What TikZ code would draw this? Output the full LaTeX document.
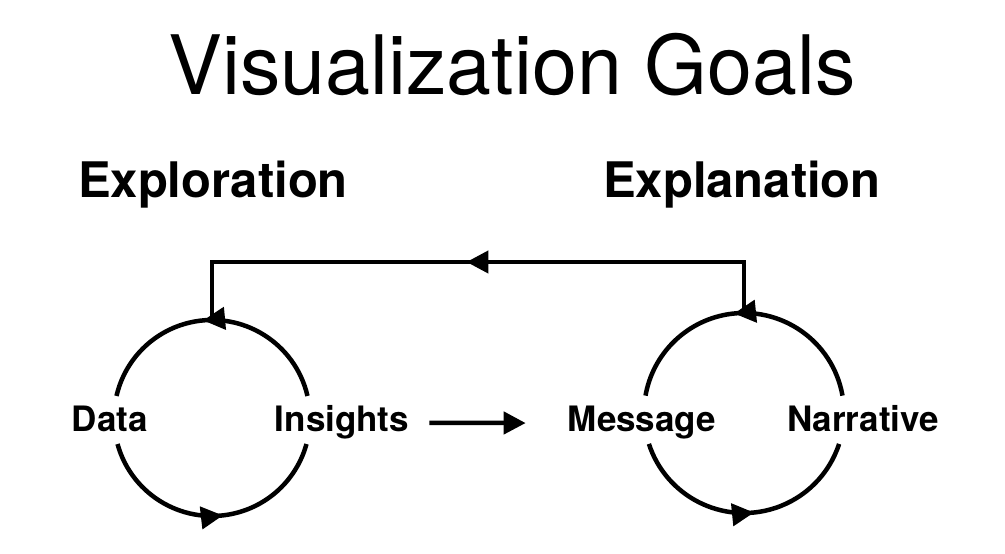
\documentclass[tikz,border=0pt]{standalone}
\usepackage{fontspec}
\setmainfont{TeX Gyre Heros}
\usetikzlibrary{arrows.meta,decorations.markings}
\begin{document}
\begin{tikzpicture}[x=1pt,y=1pt,line width=4.5pt,
	title/.style={font=\fontsize{82}{82}\selectfont,anchor=base,inner sep=0pt,xscale=0.985},
	head/.style={font=\fontsize{49}{49}\selectfont\bfseries,anchor=base,inner sep=0pt},
	word/.style={font=\fontsize{35}{35}\selectfont\bfseries,anchor=base,inner sep=0pt},
	midtip/.style={postaction={decorate,decoration={markings,
		mark=at position #1 with {\arrow{Triangle[length=22pt,width=22pt]}}}}}]
	\useasboundingbox (0,0) rectangle (1005,554);

	\node[title] (goals) at (512,459) {Visualization Goals};
	\node[head] (explo) at (213,356) {Exploration};
	\node[head] (expla) at (742,356) {Explanation};

	\node[word] (data) at (110,122) {Data};
	\node[word] (ins) at (342,122) {Insights};
	\node[word] (msg) at (642,122) {Message};
	\node[word] (nar) at (863,122) {Narrative};

	% the two loops
	\coordinate (exc) at (212,136);
	\coordinate (xpc) at (744,141);
	\draw[midtip=0.534] ([shift={(13:98)}]exc) arc (13:167:98);
	\draw[midtip=0.543] ([shift={(195.4:98)}]exc) arc (195.4:344.6:98);
	\draw[midtip=0.536] ([shift={(10:100)}]xpc) arc (10:170:100);
	\draw[midtip=0.54] ([shift={(198:100)}]xpc) arc (198:342:100);

	\coordinate (extop) at (212,234);
	\coordinate (xptop) at (744,241);
	\draw[midtip=0.5125] (xptop) -- ++(0,51) -| (extop);

	\draw[-{Triangle[length=22pt,width=22pt]}] ([xshift=18pt]ins.east) -- ([xshift=-40pt]msg.west);
\end{tikzpicture}
\end{document}
